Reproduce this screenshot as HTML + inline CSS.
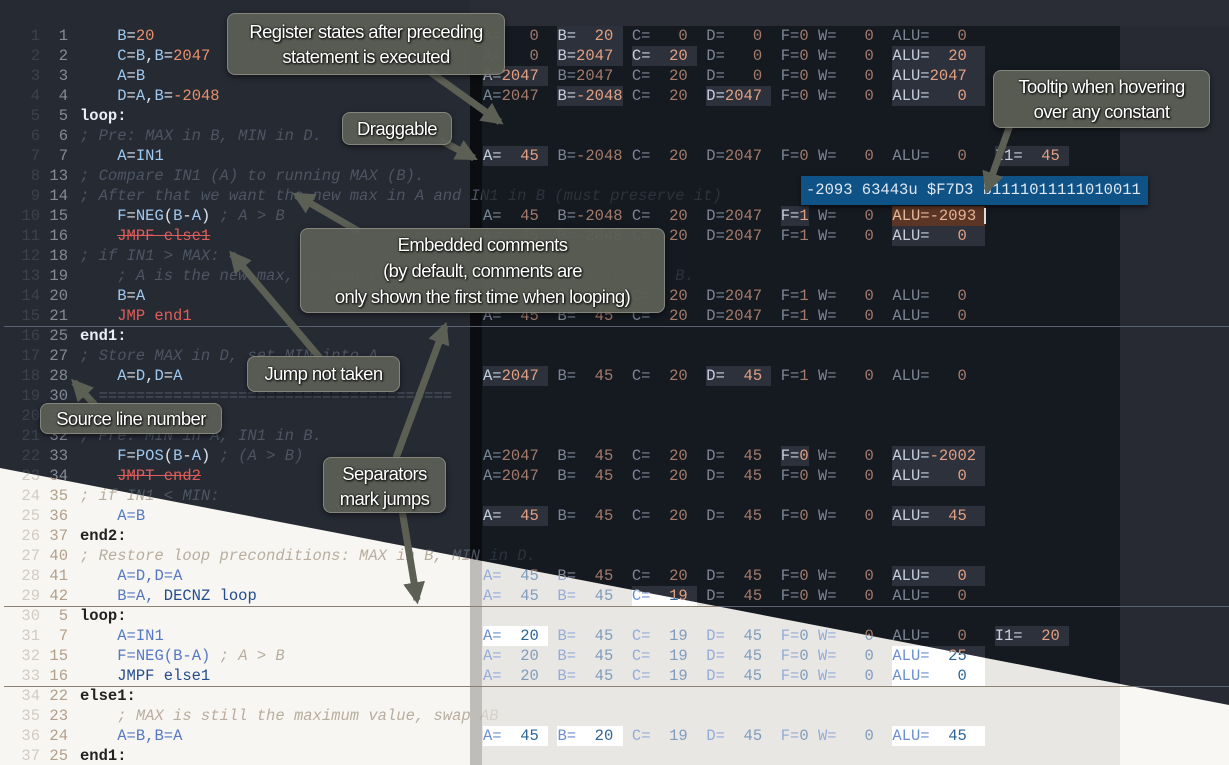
<!DOCTYPE html>
<html><head><meta charset="utf-8">
<style>
*{margin:0;padding:0;box-sizing:border-box}
html,body{width:1229px;height:765px;overflow:hidden;background:#262a33}
.layer{position:absolute;left:0;top:0;width:1229px;height:765px;overflow:hidden}
.dk{z-index:0}.lt{z-index:1}
.top{position:absolute;z-index:5}
.bg{position:absolute}
.ov{position:absolute;z-index:1}
.row{position:absolute;left:0;width:1229px;height:20px;line-height:20px;font-family:"Liberation Mono",monospace;font-size:15.5px;white-space:pre}
.row .a{position:absolute;left:0;width:40px;text-align:right}
.row .b{position:absolute;left:40px;width:28px;text-align:right}
.row .s{position:absolute;left:80px;z-index:0}
.row .r{position:absolute;left:483px;z-index:2}
.row span i,.row span b,.row span u,.row span em{font-style:normal;font-weight:normal;text-decoration:none}
.row b{display:inline-block;height:20px}
/* dark */
.dk .a{color:#3c424d}.dk .b{color:#838b97}
.dk .s{color:#dfe5ee}.dk .s i{color:#9fcaf0}.dk .s u{color:#e8906c}
.dk .s .l{color:#e8eef6;font-weight:bold}
.dk .s .c{color:#4d5563;font-style:italic}
.dk .s .x{color:#e05e5a;text-decoration:line-through}
.dk .s .j{color:#e05e5a}
.dk .r{color:#7c8696}.dk .r i{color:#a47b6b}
.dk .r b{background:#2d313b;color:#c6d0e0}.dk .r b i{color:#e2a082}
.dk .r b.br{background:#5b3626;color:#e9b99a}.dk .r b.br i{color:#eab393}
/* light */
.lt .a{color:#d2cbc3}.lt .b{color:#b39f8a}
.lt .s{color:#5577c4}.lt .s i{color:#5577c4}.lt .s u{color:#5577c4}
.lt .s .l{color:#222;font-weight:bold}
.lt .s .c{color:#b8ad9f;font-style:italic}
.lt .s .x{color:#e05e5a;text-decoration:line-through}
.lt .s .j{color:#234c8e}
.lt .r{color:#95acd8}.lt .r i{color:#7f9cbd}
.lt .r b{background:#fff;color:#6a8fd0}.lt .r b i{color:#2d6596}
.sep{position:absolute;left:4px;width:1225px;height:1px;z-index:3}
.co{position:absolute;z-index:6;background:rgba(91,94,84,0.96);border:1px solid rgba(170,172,160,0.55);border-radius:8px;box-shadow:0 2px 6px rgba(0,0,0,.55);color:#fff;font-family:"Liberation Sans",sans-serif;font-size:18.5px;text-align:center;text-shadow:1px 1px 2px #000,0 0 2px #000;letter-spacing:-0.6px}
</style></head><body>

<!-- DARK LAYER -->
<div class="layer dk">
<div class="bg" style="left:0;top:0;width:1229px;height:765px;background:#262a33"></div>
<div class="bg" style="left:470px;top:0;width:759px;height:26px;background:#2a2d36"></div>
<div class="bg" style="left:470px;top:26px;width:12px;height:739px;background:#0b0d10"></div>
<div class="bg" style="left:482px;top:26px;width:638px;height:739px;background:#161a22"></div>
<div class="bg" style="left:1120px;top:26px;width:109px;height:739px;background:#272a33"></div>
<div class="ov" style="left:482px;top:26px;width:638px;height:739px;background:rgba(22,26,34,0.6)"></div>
<div class="sep" style="top:326px;background:#5a6272"></div>
<div class="sep" style="top:606px;background:#5a6272"></div>
<div class="sep" style="top:686px;background:#5a6272"></div>

<div class="row" style="top:26px"><span class="a">1</span><span class="b">1</span><span class="s">    <i>B</i>=<u>20</u></span><span class="r">A=   <i>0</i>  <b>B=  <i>20</i> </b> C=   <i>0</i>  D=   <i>0</i>  F=<i>0</i> W=   <i>0</i>  ALU=   <i>0</i></span></div>
<div class="row" style="top:46px"><span class="a">2</span><span class="b">2</span><span class="s">    <i>C</i>=<i>B</i>,<i>B</i>=<u>2047</u></span><span class="r">A=   <i>0</i>  <b>B=<i>2047</i> </b> <b>C=  <i>20</i> </b> D=   <i>0</i>  F=<i>0</i> W=   <i>0</i>  <b>ALU=  <i>20</i>  </b></span></div>
<div class="row" style="top:66px"><span class="a">3</span><span class="b">3</span><span class="s">    <i>A</i>=<i>B</i></span><span class="r"><b>A=<i>2047</i> </b> B=<i>2047</i>  C=  <i>20</i>  D=   <i>0</i>  F=<i>0</i> W=   <i>0</i>  <b>ALU=<i>2047</i>  </b></span></div>
<div class="row" style="top:86px"><span class="a">4</span><span class="b">4</span><span class="s">    <i>D</i>=<i>A</i>,<i>B</i>=<u>-2048</u></span><span class="r">A=<i>2047</i>  <b>B=<i>-2048</i></b> C=  <i>20</i>  <b>D=<i>2047</i> </b> F=<i>0</i> W=   <i>0</i>  <b>ALU=   <i>0</i>  </b></span></div>
<div class="row" style="top:106px"><span class="a">5</span><span class="b">5</span><span class="s"><span class="l">loop:</span></span></div>
<div class="row" style="top:126px"><span class="a">6</span><span class="b">6</span><span class="s"><span class="c">; Pre: MAX in B, MIN in D.</span></span></div>
<div class="row" style="top:146px"><span class="a">7</span><span class="b">7</span><span class="s">    <i>A</i>=<i>IN1</i></span><span class="r"><b>A=  <i>45</i> </b> B=<i>-2048</i> C=  <i>20</i>  D=<i>2047</i>  F=<i>0</i> W=   <i>0</i>  ALU=   <i>0</i>   <b>I1=  <i>45</i> </b></span></div>
<div class="row" style="top:166px"><span class="a">8</span><span class="b">13</span><span class="s"><span class="c">; Compare IN1 (A) to running MAX (B).</span></span></div>
<div class="row" style="top:186px"><span class="a">9</span><span class="b">14</span><span class="s"><span class="c">; After that we want the new max in A and IN1 in B (must preserve it)</span></span></div>
<div class="row" style="top:206px"><span class="a">10</span><span class="b">15</span><span class="s">    <i>F</i>=<i>NEG</i>(<i>B</i>-<i>A</i>) <span class="c">; A &gt; B</span></span><span class="r">A=  <i>45</i>  B=<i>-2048</i> C=  <i>20</i>  D=<i>2047</i>  <b>F=<i>1</i></b> W=   <i>0</i>  <b class="br">ALU=<i>-2093</i> </b></span></div>
<div class="row" style="top:226px"><span class="a">11</span><span class="b">16</span><span class="s">    <span class="x">JMPF else1</span></span><span class="r">A=  <i>45</i>  B=<i>-2048</i> C=  <i>20</i>  D=<i>2047</i>  F=<i>1</i> W=   <i>0</i>  <b>ALU=   <i>0</i>  </b></span></div>
<div class="row" style="top:246px"><span class="a">12</span><span class="b">18</span><span class="s"><span class="c">; if IN1 &gt; MAX:</span></span></div>
<div class="row" style="top:266px"><span class="a">13</span><span class="b">19</span><span class="s">    <span class="c">; A is the new max, we don't need MAX anymore, put IN1 into B.</span></span></div>
<div class="row" style="top:286px"><span class="a">14</span><span class="b">20</span><span class="s">    <i>B</i>=<i>A</i></span><span class="r">A=  <i>45</i>  B=  <i>45</i>  C=  <i>20</i>  D=<i>2047</i>  F=<i>1</i> W=   <i>0</i>  ALU=   <i>0</i></span></div>
<div class="row" style="top:306px"><span class="a">15</span><span class="b">21</span><span class="s">    <span class="j">JMP end1</span></span><span class="r">A=  <i>45</i>  B=  <i>45</i>  C=  <i>20</i>  D=<i>2047</i>  F=<i>1</i> W=   <i>0</i>  ALU=   <i>0</i></span></div>
<div class="row" style="top:326px"><span class="a">16</span><span class="b">25</span><span class="s"><span class="l">end1:</span></span></div>
<div class="row" style="top:346px"><span class="a">17</span><span class="b">27</span><span class="s"><span class="c">; Store MAX in D, set MIN into A</span></span></div>
<div class="row" style="top:366px"><span class="a">18</span><span class="b">28</span><span class="s">    <i>A</i>=<i>D</i>,<i>D</i>=<i>A</i></span><span class="r"><b>A=<i>2047</i> </b> B=  <i>45</i>  C=  <i>20</i>  <b>D=  <i>45</i> </b> F=<i>1</i> W=   <i>0</i>  ALU=   <i>0</i></span></div>
<div class="row" style="top:386px"><span class="a">19</span><span class="b">30</span><span class="s"><span class="c">  ======================================</span></span></div>
<div class="row" style="top:406px"><span class="a">20</span><span class="b">31</span><span class="s"></span></div>
<div class="row" style="top:426px"><span class="a">21</span><span class="b">32</span><span class="s"><span class="c">; Pre: MIN in A, IN1 in B.</span></span></div>
<div class="row" style="top:446px"><span class="a">22</span><span class="b">33</span><span class="s">    <i>F</i>=<i>POS</i>(<i>B</i>-<i>A</i>) <span class="c">; (A &gt; B)</span></span><span class="r">A=<i>2047</i>  B=  <i>45</i>  C=  <i>20</i>  D=  <i>45</i>  <b>F=<i>0</i></b> W=   <i>0</i>  <b>ALU=<i>-2002</i> </b></span></div>
<div class="row" style="top:466px"><span class="a">23</span><span class="b">34</span><span class="s">    <span class="x">JMPT end2</span></span><span class="r">A=<i>2047</i>  B=  <i>45</i>  C=  <i>20</i>  D=  <i>45</i>  F=<i>0</i> W=   <i>0</i>  <b>ALU=   <i>0</i>  </b></span></div>
<div class="row" style="top:486px"><span class="a">24</span><span class="b">35</span><span class="s"><span class="c">; if IN1 &lt; MIN:</span></span></div>
<div class="row" style="top:506px"><span class="a">25</span><span class="b">36</span><span class="s">    <i>A</i>=<i>B</i></span><span class="r"><b>A=  <i>45</i> </b> B=  <i>45</i>  C=  <i>20</i>  D=  <i>45</i>  F=<i>0</i> W=   <i>0</i>  <b>ALU=  <i>45</i>  </b></span></div>
<div class="row" style="top:526px"><span class="a">26</span><span class="b">37</span><span class="s"><span class="l">end2:</span></span></div>
<div class="row" style="top:546px"><span class="a">27</span><span class="b">40</span><span class="s"><span class="c">; Restore loop preconditions: MAX in B, MIN in D.</span></span></div>
<div class="row" style="top:566px"><span class="a">28</span><span class="b">41</span><span class="s">    <i>A</i>=<i>D</i>,<i>D</i>=<i>A</i></span><span class="r">A=  <i>45</i>  B=  <i>45</i>  C=  <i>20</i>  D=  <i>45</i>  F=<i>0</i> W=   <i>0</i>  <b>ALU=   <i>0</i>  </b></span></div>
<div class="row" style="top:586px"><span class="a">29</span><span class="b">42</span><span class="s">    <i>B</i>=<i>A</i>, <i>DECNZ loop</i></span><span class="r">A=  <i>45</i>  B=  <i>45</i>  <b>C=  <i>19</i> </b> D=  <i>45</i>  F=<i>0</i> W=   <i>0</i>  ALU=   <i>0</i></span></div>
<div class="row" style="top:606px"><span class="a">30</span><span class="b">5</span><span class="s"><span class="l">loop:</span></span></div>
<div class="row" style="top:626px"><span class="a">31</span><span class="b">7</span><span class="s">    <i>A</i>=<i>IN1</i></span><span class="r"><b>A=  <i>20</i> </b> B=  <i>45</i>  C=  <i>19</i>  D=  <i>45</i>  F=<i>0</i> W=   <i>0</i>  ALU=   <i>0</i>   <b>I1=  <i>20</i> </b></span></div>
<div class="row" style="top:646px"><span class="a">32</span><span class="b">15</span><span class="s">    <i>F</i>=<i>NEG</i>(<i>B</i>-<i>A</i>) <span class="c">; A &gt; B</span></span><span class="r">A=  <i>20</i>  B=  <i>45</i>  C=  <i>19</i>  D=  <i>45</i>  F=<i>0</i> W=   <i>0</i>  <b>ALU=  <i>25</i>  </b></span></div>
<div class="row" style="top:666px"><span class="a">33</span><span class="b">16</span><span class="s">    <i>JMPF else1</i></span><span class="r">A=  <i>20</i>  B=  <i>45</i>  C=  <i>19</i>  D=  <i>45</i>  F=<i>0</i> W=   <i>0</i>  <b>ALU=   <i>0</i>  </b></span></div>
</div>

<!-- LIGHT LAYER -->
<div class="layer lt" style="clip-path:polygon(0px 468px,1229px 705px,1229px 765px,0px 765px)">
<div class="bg" style="left:0;top:0;width:470px;height:765px;background:#f8f6f2"></div>
<div class="bg" style="left:470px;top:0;width:12px;height:765px;background:#bfbdba"></div>
<div class="bg" style="left:482px;top:0;width:638px;height:765px;background:#e9e7e4"></div>
<div class="bg" style="left:1120px;top:0;width:109px;height:765px;background:#f8f7f3"></div>
<div class="ov" style="left:482px;top:0;width:638px;height:765px;background:rgba(233,231,228,0.6)"></div>
<div class="sep" style="top:606px;background:#8c8070"></div>
<div class="sep" style="top:686px;background:#8c8070"></div>

<div class="row" style="top:446px"><span class="a">22</span><span class="b">33</span><span class="s">    <i>F</i>=<i>POS</i>(<i>B</i>-<i>A</i>) <span class="c">; (A &gt; B)</span></span><span class="r">A=<i>2047</i>  B=  <i>45</i>  C=  <i>20</i>  D=  <i>45</i>  <b>F=<i>0</i></b> W=   <i>0</i>  <b>ALU=<i>-2002</i> </b></span></div>
<div class="row" style="top:466px"><span class="a">23</span><span class="b">34</span><span class="s">    <span class="x">JMPT end2</span></span><span class="r">A=<i>2047</i>  B=  <i>45</i>  C=  <i>20</i>  D=  <i>45</i>  F=<i>0</i> W=   <i>0</i>  <b>ALU=   <i>0</i>  </b></span></div>
<div class="row" style="top:486px"><span class="a">24</span><span class="b">35</span><span class="s"><span class="c">; if IN1 &lt; MIN:</span></span></div>
<div class="row" style="top:506px"><span class="a">25</span><span class="b">36</span><span class="s">    <i>A</i>=<i>B</i></span><span class="r"><b>A=  <i>45</i> </b> B=  <i>45</i>  C=  <i>20</i>  D=  <i>45</i>  F=<i>0</i> W=   <i>0</i>  <b>ALU=  <i>45</i>  </b></span></div>
<div class="row" style="top:526px"><span class="a">26</span><span class="b">37</span><span class="s"><span class="l">end2:</span></span></div>
<div class="row" style="top:546px"><span class="a">27</span><span class="b">40</span><span class="s"><span class="c">; Restore loop preconditions: MAX in B, MIN in D.</span></span></div>
<div class="row" style="top:566px"><span class="a">28</span><span class="b">41</span><span class="s">    <i>A</i>=<i>D</i>,<i>D</i>=<i>A</i></span><span class="r">A=  <i>45</i>  B=  <i>45</i>  C=  <i>20</i>  D=  <i>45</i>  F=<i>0</i> W=   <i>0</i>  <b>ALU=   <i>0</i>  </b></span></div>
<div class="row" style="top:586px"><span class="a">29</span><span class="b">42</span><span class="s">    <i>B</i>=<i>A</i>, <span class="j">DECNZ loop</span></span><span class="r">A=  <i>45</i>  B=  <i>45</i>  <b>C=  <i>19</i> </b> D=  <i>45</i>  F=<i>0</i> W=   <i>0</i>  ALU=   <i>0</i></span></div>
<div class="row" style="top:606px"><span class="a">30</span><span class="b">5</span><span class="s"><span class="l">loop:</span></span></div>
<div class="row" style="top:626px"><span class="a">31</span><span class="b">7</span><span class="s">    <i>A</i>=<i>IN1</i></span><span class="r"><b>A=  <i>20</i> </b> B=  <i>45</i>  C=  <i>19</i>  D=  <i>45</i>  F=<i>0</i> W=   <i>0</i>  ALU=   <i>0</i>   <b>I1=  <i>20</i> </b></span></div>
<div class="row" style="top:646px"><span class="a">32</span><span class="b">15</span><span class="s">    <i>F</i>=<i>NEG</i>(<i>B</i>-<i>A</i>) <span class="c">; A &gt; B</span></span><span class="r">A=  <i>20</i>  B=  <i>45</i>  C=  <i>19</i>  D=  <i>45</i>  F=<i>0</i> W=   <i>0</i>  <b>ALU=  <i>25</i>  </b></span></div>
<div class="row" style="top:666px"><span class="a">33</span><span class="b">16</span><span class="s">    <span class="j">JMPF else1</span></span><span class="r">A=  <i>20</i>  B=  <i>45</i>  C=  <i>19</i>  D=  <i>45</i>  F=<i>0</i> W=   <i>0</i>  <b>ALU=   <i>0</i>  </b></span></div>
<div class="row" style="top:686px"><span class="a">34</span><span class="b">22</span><span class="s"><span class="l">else1:</span></span></div>
<div class="row" style="top:706px"><span class="a">35</span><span class="b">23</span><span class="s">    <span class="c">; MAX is still the maximum value, swap AB</span></span></div>
<div class="row" style="top:726px"><span class="a">36</span><span class="b">24</span><span class="s">    <i>A</i>=<i>B</i>,<i>B</i>=<i>A</i></span><span class="r"><b>A=  <i>45</i> </b> <b>B=  <i>20</i> </b> C=  <i>19</i>  D=  <i>45</i>  F=<i>0</i> W=   <i>0</i>  <b>ALU=  <i>45</i>  </b></span></div>
<div class="row" style="top:746px"><span class="a">37</span><span class="b">25</span><span class="s"><span class="l">end1:</span></span></div>
</div>

<!-- Tooltip -->
<div class="top" style="left:801px;top:176px;width:347px;height:29px;background:#0f5286;box-shadow:0 2px 5px rgba(0,0,0,.6);color:#dfe8f2;font-family:'Liberation Mono',monospace;font-size:15.5px;line-height:29px;padding-left:5px;white-space:pre">-2093 63443u $F7D3 b1111011111010011</div>
<div class="top" style="left:984px;top:208px;width:2px;height:16px;border-left:1px solid #ddd;border-right:1px solid #ddd"></div>

<!-- Arrows -->
<svg class="top" width="1229" height="765" style="left:0;top:0">
<defs><marker id="ah" viewBox="0 0 10 10" refX="8" refY="5" markerWidth="22" markerHeight="22" markerUnits="userSpaceOnUse" orient="auto"><path d="M0,0 L10,5 L0,10 z" fill="#5c5f54"/></marker></defs>
<g stroke="#5c5f54" stroke-width="7" fill="none" marker-end="url(#ah)">
<line x1="430" y1="72" x2="500" y2="122"/>
<line x1="440" y1="140" x2="474" y2="158"/>
<line x1="1010" y1="125" x2="987" y2="190"/>
<line x1="360" y1="232" x2="296" y2="195"/>
<line x1="320" y1="358" x2="232" y2="254"/>
<line x1="95" y1="405" x2="74" y2="382"/>
<line x1="396" y1="458" x2="445" y2="326"/>
<line x1="402" y1="510" x2="417" y2="600"/>
</g></svg>

<!-- Callouts -->
<div class="co" style="left:227px;top:13px;width:278px;height:62px;line-height:25px;padding-top:5px">Register states after preceding<br>statement is executed</div>
<div class="co" style="left:342px;top:112px;width:110px;height:33px;line-height:31px">Draggable</div>
<div class="co" style="left:993px;top:70px;width:217px;height:58px;line-height:25px;padding-top:3px">Tooltip when hovering<br>over any constant</div>
<div class="co" style="left:300px;top:228px;width:365px;height:85px;line-height:26px;padding-top:3px">Embedded comments<br>(by default, comments are<br>only shown the first time when looping)</div>
<div class="co" style="left:247px;top:356px;width:153px;height:36px;line-height:34px">Jump not taken</div>
<div class="co" style="left:40px;top:403px;width:182px;height:31px;line-height:29px">Source line number</div>
<div class="co" style="left:323px;top:457px;width:123px;height:56px;line-height:25px;padding-top:3px">Separators<br>mark jumps</div>
</body></html>
